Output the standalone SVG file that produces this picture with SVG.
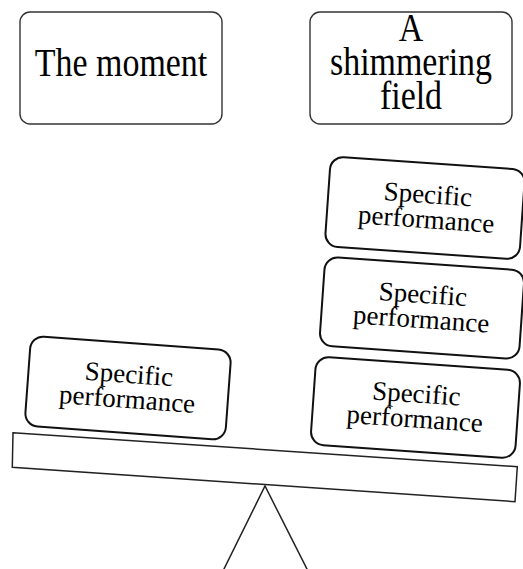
<svg xmlns="http://www.w3.org/2000/svg" width="523" height="569" viewBox="0 0 523 569">
<style>
.top{fill:#fff;stroke:#333;stroke-width:1.4}
.blk{fill:#fff;stroke:#111;stroke-width:2}
.t1{font-family:"Liberation Serif","Times New Roman",serif;font-size:39px;fill:#000;text-anchor:middle}
.t2{font-family:"Liberation Serif","Times New Roman",serif;font-size:27px;fill:#000;text-anchor:middle}
.ln{fill:#fff;stroke:#222;stroke-width:1.5}
</style>
<rect width="523" height="569" fill="#fff"/>
<g id="connectors">
<polyline class="ln" fill="none" points="221,575 265,486 310,575" style="fill:none"/>
</g>
<g id="beam">
<polygon class="ln" points="13,432.7 517.3,466.7 515,501.7 12.3,467.3"/>
</g>
<g id="moment">
<rect class="top" x="20" y="12" width="202" height="112" rx="10"/>
<g transform="translate(121,0) scale(0.87,1)"><text class="t1" x="0" y="76.5">The moment</text></g>
</g>
<g id="field">
<rect class="top" x="310" y="12" width="202" height="112" rx="10"/>
<g transform="translate(411,0) scale(0.87,1)">
<text class="t1" x="0" y="41.5">A</text>
<text class="t1" x="0" y="75">shimmering</text>
<text class="t1" x="0" y="109">field</text>
</g>
</g>
<g id="left-block" transform="translate(128,388) rotate(4.2)">
<rect class="blk" x="-100.5" y="-45" width="201" height="90" rx="13"/>
<text class="t2" x="0" y="-5">Specific</text>
<text class="t2" x="0" y="20">performance</text>
</g>
<g id="right-block-1" transform="translate(425,208) rotate(4)">
<rect class="blk" x="-97.5" y="-45" width="195" height="90" rx="13"/>
<text class="t2" x="2" y="-5">Specific</text>
<text class="t2" x="2" y="20">performance</text>
</g>
<g id="right-block-2" transform="translate(422,308) rotate(4)">
<rect class="blk" x="-100" y="-44.5" width="200" height="89" rx="13"/>
<text class="t2" x="0" y="-5">Specific</text>
<text class="t2" x="0" y="20">performance</text>
</g>
<g id="right-block-3" transform="translate(415.5,407.5) rotate(4)">
<rect class="blk" x="-102.5" y="-44" width="205" height="88" rx="13"/>
<text class="t2" x="0" y="-5">Specific</text>
<text class="t2" x="0" y="20">performance</text>
</g>
</svg>
